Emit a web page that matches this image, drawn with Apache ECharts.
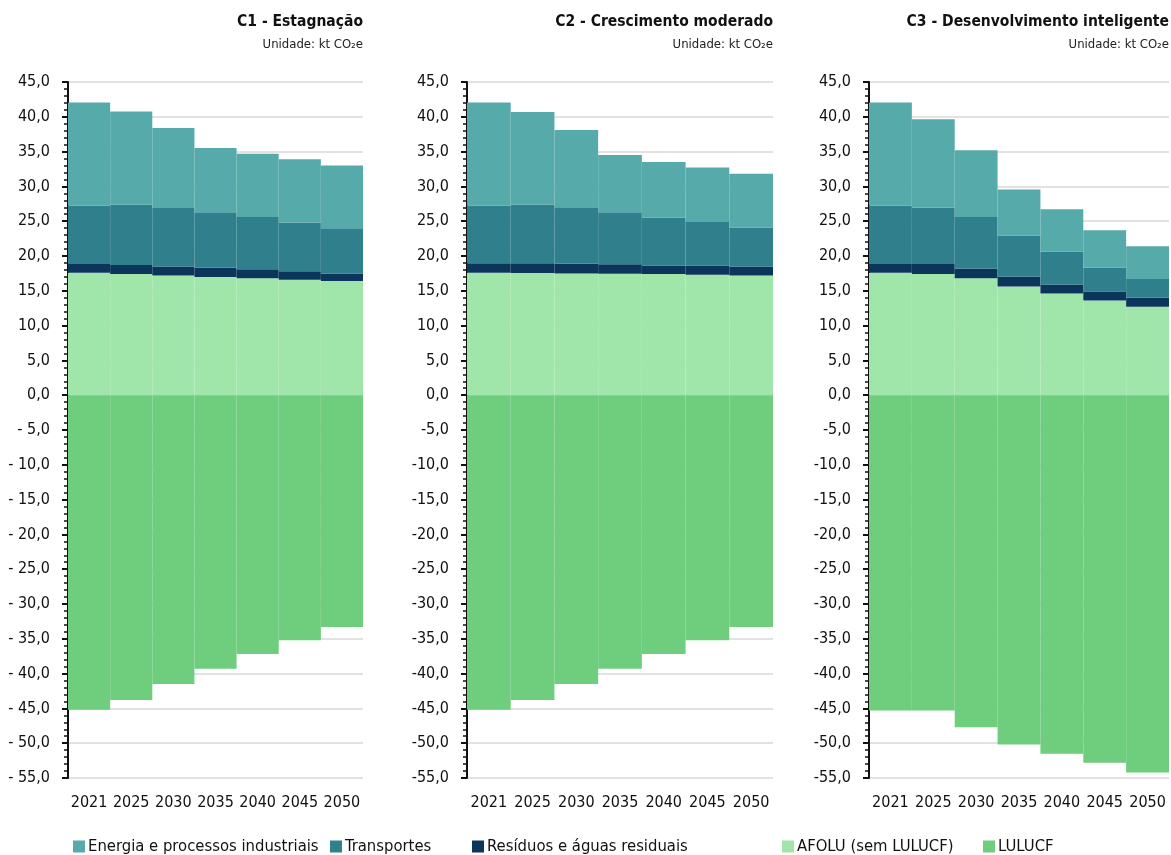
<!DOCTYPE html>
<html>
<head>
<meta charset="utf-8">
<script src="https://cdn.jsdelivr.net/npm/echarts@6/dist/echarts.min.js"></script>
<style>
html,body{margin:0;padding:0;background:#fff;}
#chart{width:1171px;height:855px;}
</style>
</head>
<body>
<div id="chart"></div>
<script>
var years = ['2021','2025','2030','2035','2040','2045','2050'];
var seriesNames = ['Energia e processos industriais','Transportes','Resíduos e águas residuais','AFOLU (sem LULUCF)','LULUCF'];
var colors = ['#56abaa','#2f7f8c','#0b355a','#a0e5a9','#6fcd7e'];
var panelTitles = ['C1 - Estagnação','C2 - Crescimento moderado','C3 - Desenvolvimento inteligente'];
var unitText = 'Unidade: kt CO₂e';

// C1 - Estagnação
var c1Energia    = [14.8, 13.4, 11.5, 9.2, 9.1, 9.1, 9.0];
var c1Transp     = [8.4, 8.65, 8.4, 8.0, 7.5, 7.0, 6.5];
var c1Residuos   = [1.25, 1.3, 1.3, 1.3, 1.3, 1.2, 1.1];
var c1Afolu      = [17.6, 17.4, 17.2, 17.0, 16.8, 16.6, 16.4];
var c1Lulucf     = [-45.2, -43.8, -41.5, -39.3, -37.2, -35.2, -33.3];

// C2 - Crescimento moderado
var c2Energia    = [14.8, 13.3, 11.1, 8.2, 8.0, 7.8, 7.7];
var c2Transp     = [8.3, 8.45, 8.1, 7.5, 6.85, 6.25, 5.6];
var c2Residuos   = [1.35, 1.4, 1.4, 1.35, 1.25, 1.35, 1.3];
var c2Afolu      = [17.6, 17.55, 17.5, 17.45, 17.4, 17.3, 17.2];
var c2Lulucf     = [-45.2, -43.8, -41.5, -39.3, -37.2, -35.2, -33.3];

// C3 - Desenvolvimento inteligente
var c3Energia    = [14.8, 12.7, 9.6, 6.6, 6.1, 5.4, 4.7];
var c3Transp     = [8.4, 8.1, 7.4, 5.9, 4.7, 3.4, 2.7];
var c3Residuos   = [1.25, 1.45, 1.4, 1.45, 1.3, 1.3, 1.3];
var c3Afolu      = [17.6, 17.4, 16.8, 15.6, 14.6, 13.6, 12.7];
var c3Lulucf     = [-45.3, -45.3, -47.7, -50.2, -51.5, -52.8, -54.2];

var panels = [
  [c1Energia, c1Transp, c1Residuos, c1Afolu, c1Lulucf],
  [c2Energia, c2Transp, c2Residuos, c2Afolu, c2Lulucf],
  [c3Energia, c3Transp, c3Residuos, c3Afolu, c3Lulucf]
];
// stacking order from bottom up
var stackOrder = [3, 2, 1, 0, 4];

var FONT = '"DejaVu Sans Condensed","DejaVu Sans",sans-serif';
var gridsPos = [
  {left: 68, right: 808, top: 82, bottom: 77},
  {left: 467, right: 398, top: 82, bottom: 77},
  {left: 869, right: 2, top: 82, bottom: 77}
];
var titleRight = [808, 398, 2];

function fmt(panelIdx){
  return function(v){
    var s = Math.abs(v).toFixed(1).replace('.', ',');
    if (v < 0) return (panelIdx === 0 ? '- ' : '-') + s;
    return s;
  };
}

var option = {
  backgroundColor: '#fff',
  animation: false,
  textStyle: {fontFamily: FONT},
  title: [],
  grid: [],
  xAxis: [],
  yAxis: [],
  legend: [],
  series: []
};

for (var p = 0; p < 3; p++) {
  option.title.push({
    text: panelTitles[p],
    right: titleRight[p],
    top: 14,
    padding: 0,
    textStyle: {fontFamily: FONT, fontSize: 15.5, fontWeight: 'bold', color: '#111'}
  });
  option.title.push({
    text: unitText,
    right: titleRight[p],
    top: 38,
    padding: 0,
    textStyle: {fontFamily: FONT, fontSize: 13, fontWeight: 'normal', color: '#222'}
  });
  option.grid.push(gridsPos[p]);
  option.xAxis.push({
    type: 'category',
    gridIndex: p,
    data: years,
    position: 'bottom',
    axisLine: {show: false},
    axisTick: {show: false},
    axisLabel: {interval: 0, fontFamily: FONT, fontSize: 16, color: '#111', margin: 17},
    splitLine: {show: false}
  });
  option.yAxis.push({
    type: 'value',
    gridIndex: p,
    min: -55,
    max: 45,
    interval: 5,
    axisLine: {show: true, lineStyle: {color: '#111', width: 2}},
    axisTick: {show: true, length: 6, lineStyle: {color: '#111', width: 2}},
    minorTick: {show: true, splitNumber: 5, length: 4, lineStyle: {color: '#111', width: 1.5}},
    axisLabel: {fontFamily: FONT, fontSize: 16, color: '#111', margin: 18, formatter: fmt(p)},
    splitLine: {show: true, lineStyle: {color: '#d9d9d9', width: 1.5}}
  });
  for (var k = 0; k < 5; k++) {
    var s = stackOrder[k];
    option.series.push({
      name: seriesNames[s],
      type: 'bar',
      xAxisIndex: p,
      yAxisIndex: p,
      stack: 'total' + p,
      barCategoryGap: '0%',
      barGap: '0%',
      data: panels[p][s],
      itemStyle: {color: colors[s]},
      emphasis: {disabled: true}
    });
  }
}

var legendLeft = [73, 330, 472, 782, 983];
for (var i = 0; i < 5; i++) {
  option.legend.push({
    data: [seriesNames[i]],
    left: legendLeft[i],
    top: 838,
    padding: 0,
    itemWidth: 12,
    itemHeight: 12,
    itemGap: 4,
    icon: 'rect',
    selectedMode: false,
    textStyle: {fontFamily: FONT, fontSize: 16.5, color: '#111', padding: [0,0,0,-2]}
  });
}

var chart = echarts.init(document.getElementById('chart'), null, {renderer: 'canvas'});
chart.setOption(option);
</script>
</body>
</html>
